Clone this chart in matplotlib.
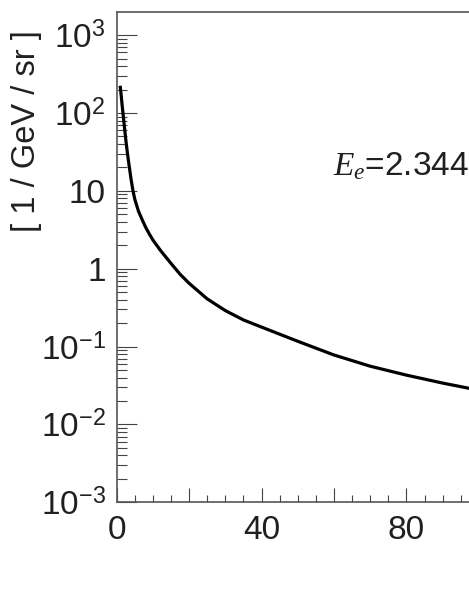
import math
import matplotlib
matplotlib.use("Agg")
import matplotlib.pyplot as plt
from matplotlib.ticker import MultipleLocator, LogLocator, FixedLocator, FuncFormatter

plt.rcParams['font.family'] = ['Liberation Sans', 'DejaVu Sans']
plt.rcParams['mathtext.fontset'] = 'custom'
plt.rcParams['mathtext.rm'] = 'Liberation Sans'
plt.rcParams['mathtext.it'] = 'Liberation Serif:italic'

# curve
angle = [1, 1.25, 1.5, 1.75, 2, 2.5, 3, 3.5, 4, 4.5, 5, 6, 7, 8, 9, 10, 12,
         15, 17.5, 20, 25, 30, 35, 40, 50, 60, 70, 80, 90, 100]
flux = [214, 166, 126, 98, 76, 46, 29.5, 20, 13.8, 10, 7.8, 5.5, 4.3, 3.4,
        2.8, 2.34, 1.74, 1.17, 0.85, 0.65, 0.41, 0.29, 0.22, 0.178, 0.117,
        0.078, 0.056, 0.043, 0.034, 0.0275]

x_labels = [0, 40, 80]
y_decades = [-3, -2, -1, 0, 1, 2, 3]

fig = plt.figure(figsize=(4.69, 6.07), dpi=100)
ax = fig.add_axes([116.7 / 469, 104.7 / 607, 434.6 / 469, 490.3 / 607])

ax.plot(angle, flux, color='black', lw=2.3)

ax.set_yscale('log')
ax.set_xlim(0, 120)
ax.set_ylim(1e-3, 1986)

ax.xaxis.set_major_locator(MultipleLocator(20))
ax.xaxis.set_minor_locator(MultipleLocator(5))
ax.xaxis.set_major_formatter(FuncFormatter(
    lambda v, p: '%d' % v if int(round(v)) in x_labels else ''))

ax.yaxis.set_major_locator(FixedLocator([10.0 ** d for d in y_decades]))
ax.yaxis.set_minor_locator(LogLocator(base=10, subs=range(2, 10)))


def ylab(v, p):
    d = int(round(math.log10(v)))
    if d == 0:
        return '1'
    if d == 1:
        return '10'
    return r'$10^{%d}$' % d


ax.yaxis.set_major_formatter(FuncFormatter(ylab))

ax.tick_params(axis='x', which='major', direction='in', length=10, width=0.8,
               color='#444444', labelsize=24, pad=9, labelcolor='#231f20')
ax.tick_params(axis='x', which='minor', direction='in', length=5, width=0.8,
               color='#444444')
ax.tick_params(axis='y', which='major', direction='in', length=14.4, width=0.8,
               color='#444444', labelsize=24, pad=8, labelcolor='#231f20')
ax.tick_params(axis='y', which='minor', direction='in', length=7.2, width=0.8,
               color='#444444')

for s in ax.spines.values():
    s.set_color('#555555')
    s.set_linewidth(1.2)

fig.text(27 / 469, 1 - 131 / 607, '[ 1 / GeV / sr ]', rotation=90,
         ha='center', va='center', fontsize=23.5, color='#231f20')

ax.text(333, 607 - 175, r'$E_e$=2.344', transform=None, fontsize=24,
        color='#231f20', ha='left', va='baseline')

fig.savefig('out.png', dpi=100)
